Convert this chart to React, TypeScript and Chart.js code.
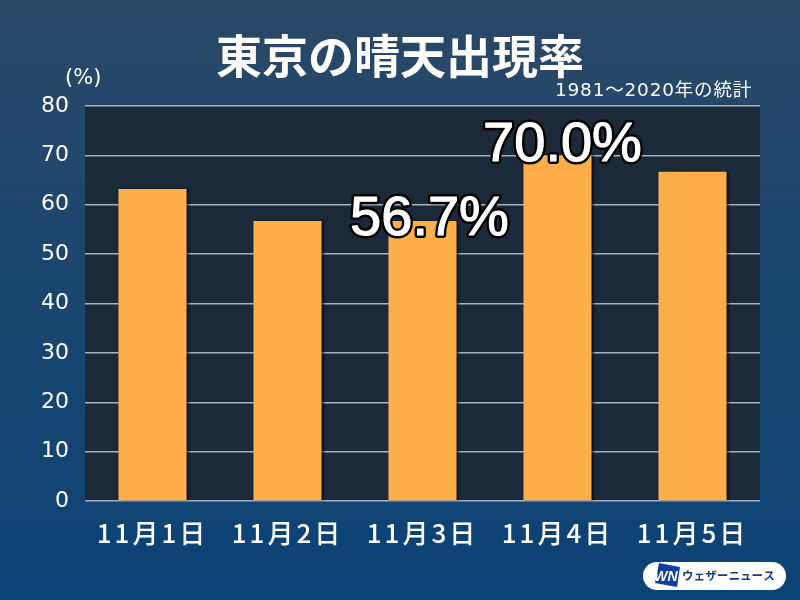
import { useEffect, useRef } from 'react';
import { Chart, registerables } from 'chart.js';

Chart.register(...registerables);

const categories = ['11月1日', '11月2日', '11月3日', '11月4日', '11月5日'];
const sunnyRates = [63.2, 56.7, 56.7, 70.0, 66.7];
const yTicks = [0, 10, 20, 30, 40, 50, 60, 70, 80];
const calloutLabels = ['', '', '56.7%', '70.0%', ''];
const calloutOffsets = [0, 0, 7, 5, 0];

const JP_FONT = '"Noto Sans CJK JP", "Noto Sans", sans-serif';
const WIDE_FONT = '"DejaVu Sans", "Noto Sans CJK JP", sans-serif';
const LATIN_FONT = '"Liberation Sans", "Noto Sans CJK JP", sans-serif';

// Gradient page background and the dark plot panel
const backgroundPlugin = {
  id: 'panelBackground',
  beforeDraw(chart: Chart) {
    const { ctx, width, height, chartArea } = chart;
    const gradient = ctx.createLinearGradient(0, 0, 0, height);
    gradient.addColorStop(0, '#2a4866');
    gradient.addColorStop(1, '#0a4376');
    ctx.save();
    ctx.fillStyle = gradient;
    ctx.fillRect(0, 0, width, height);
    ctx.fillStyle = '#1c2938';
    ctx.fillRect(chartArea.left, chartArea.top, chartArea.width, chartArea.height);
    ctx.restore();
  },
  // Soft dark edge on the right of the bars
  beforeDatasetsDraw(chart: Chart) {
    const { ctx } = chart;
    ctx.save();
    ctx.shadowColor = 'rgba(0, 0, 0, 0.6)';
    ctx.shadowOffsetX = 2;
    ctx.shadowBlur = 2;
  },
  afterDatasetsDraw(chart: Chart) {
    chart.ctx.restore();
  },
};

// The x tick labels are spaced out in the original
const spacedTicksPlugin = {
  id: 'spacedTicks',
  afterLayout(chart: Chart) {
    const scale: any = chart.scales.x;
    const drawLabels = scale.drawLabels;
    if (scale.spaced) return;
    scale.spaced = true;
    scale.drawLabels = function (area: any) {
      chart.ctx.save();
      (chart.ctx as any).letterSpacing = '3px';
      drawLabels.call(scale, area);
      chart.ctx.restore();
    };
  },
};

// Title, unit, source note, callouts and the logo pill
const textPlugin = {
  id: 'overlayText',
  afterDraw(chart: Chart) {
    const ctx: any = chart.ctx;
    ctx.save();
    ctx.fillStyle = '#ffffff';
    ctx.textBaseline = 'middle';

    ctx.textAlign = 'center';
    ctx.font = `bold 46px ${JP_FONT}`;
    ctx.fillText('東京の晴天出現率', 400, 56);

    ctx.textAlign = 'left';
    ctx.font = `21px ${WIDE_FONT}`;
    ctx.fillText('(%)', 65, 79);

    ctx.textAlign = 'right';
    ctx.font = `18.5px ${WIDE_FONT}`;
    ctx.letterSpacing = '0.8px';
    ctx.fillText('1981～2020年の統計', 752, 91);
    ctx.letterSpacing = '0px';

    const meta = chart.getDatasetMeta(0);
    ctx.textAlign = 'center';
    ctx.font = `56px ${LATIN_FONT}`;
    ctx.lineJoin = 'round';
    calloutLabels.forEach((label, i) => {
      if (!label) return;
      const bar = meta.data[i];
      const x = bar.x + calloutOffsets[i];
      const y = bar.y - 1 - (i === 3 ? 9 : 0);
      ctx.strokeStyle = '#000000';
      ctx.lineWidth = 6;
      ctx.strokeText(label, x, y);
      ctx.strokeStyle = '#ffffff';
      ctx.lineWidth = 1.2;
      ctx.strokeText(label, x, y);
      ctx.fillStyle = '#ffffff';
      ctx.fillText(label, x, y);
    });

    // logo
    ctx.fillStyle = '#ffffff';
    ctx.beginPath();
    ctx.roundRect(643, 562, 143, 28, 14);
    ctx.fill();
    ctx.fillStyle = '#0f3f9a';
    ctx.beginPath();
    ctx.moveTo(659, 563);
    ctx.lineTo(680, 567);
    ctx.lineTo(677, 587);
    ctx.lineTo(655, 583);
    ctx.closePath();
    ctx.fill();
    ctx.fillStyle = '#ffffff';
    ctx.textAlign = 'center';
    ctx.font = `italic bold 14px ${LATIN_FONT}`;
    ctx.fillText('WN', 666, 577);
    ctx.fillStyle = '#0f3f8c';
    ctx.textAlign = 'left';
    ctx.font = `bold 11.6px ${JP_FONT}`;
    ctx.fillText('ウェザーニュース', 682, 576);
    ctx.restore();
  },
};

export default function App() {
  const chartRef = useRef<HTMLCanvasElement>(null);

  useEffect(() => {
    if (!chartRef.current) return;
    document.body.style.margin = '0';

    const chart = new Chart(chartRef.current, {
      type: 'bar',
      data: {
        labels: categories,
        datasets: [{
          data: sunnyRates,
          backgroundColor: '#ffae4a',
          borderWidth: 0,
          categoryPercentage: 1,
          barPercentage: 0.504,
        }],
      },
      options: {
        responsive: false,
        animation: false,
        devicePixelRatio: 1,
        layout: { padding: { top: 106, right: 40, bottom: 0, left: 0 } },
        plugins: {
          legend: { display: false },
          title: { display: false },
          tooltip: { enabled: false },
        },
        scales: {
          x: {
            grid: { display: false },
            border: { display: false },
            afterFit: (scale: any) => { scale.height = 99; },
            ticks: {
              color: '#ffffff',
              font: { family: JP_FONT, size: 26, weight: 500 },
              padding: 9,
              maxRotation: 0,
            },
          },
          y: {
            min: 0,
            max: 80,
            afterFit: (scale: any) => { scale.width = 85; },
            afterBuildTicks: (scale: any) => { scale.ticks = yTicks.map(value => ({ value })); },
            grid: { color: '#a3b1c0', lineWidth: 1.5, drawTicks: false },
            border: { display: false },
            ticks: {
              color: '#ffffff',
              font: { family: WIDE_FONT, size: 22 },
              padding: 16,
            },
          },
        },
      },
      plugins: [backgroundPlugin, spacedTicksPlugin, textPlugin],
    });

    return () => chart.destroy();
  }, []);

  return <canvas ref={chartRef} width={800} height={600} style={{ display: 'block' }} />;
}
